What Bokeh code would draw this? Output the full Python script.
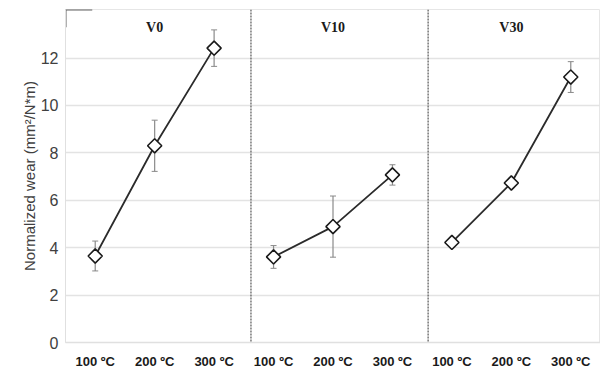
from bokeh.plotting import figure
from bokeh.models import Range1d, Span, Whisker, ColumnDataSource, FixedTicker, Label
from bokeh.embed import file_html
from bokeh.resources import INLINE

temps = ["100 ºC", "200 ºC", "300 ºC"]
groups = ["V0", "V10", "V30"]
v0 = [3.65, 8.3, 12.42]
v0_err = [0.63, 1.08, 0.77]
v10 = [3.61, 4.89, 7.07]
v10_err = [0.48, 1.29, 0.43]
v30 = [4.22, 6.73, 11.2]
v30_err = [0.08, 0.2, 0.65]
separators = [2.62, 5.6]

series = [v0, v10, v30]
errors = [v0_err, v10_err, v30_err]

p = figure(width=600, height=376, output_backend="svg", toolbar_location=None,
           x_range=Range1d(-0.5, 8.5), y_range=Range1d(0, 14.05),
           min_border_left=65, min_border_right=0, min_border_top=9, min_border_bottom=34)
p.outline_line_color = "#e6e6e6"
p.background_fill_color = "white"
p.border_fill_color = "white"

p.xgrid.visible = False
p.ygrid.grid_line_color = "#e3e3e3"
p.ygrid.grid_line_width = 1.5
p.yaxis.ticker = FixedTicker(ticks=[0, 2, 4, 6, 8, 10, 12])
p.yaxis.axis_line_color = "#e0e0e0"
p.yaxis.major_tick_line_color = None
p.yaxis.minor_tick_line_color = None
p.yaxis.major_label_text_font = "Liberation Sans"
p.yaxis.major_label_text_font_size = "16px"
p.yaxis.major_label_text_color = "#404040"
p.yaxis.major_label_standoff = 1
p.yaxis.axis_label = "Normalized wear (mm²/N*m)"
p.yaxis.axis_label_text_font = "Liberation Sans"
p.yaxis.axis_label_text_font_style = "normal"
p.yaxis.axis_label_text_font_size = "15px"
p.yaxis.axis_label_text_color = "#404040"
p.yaxis.axis_label_standoff = 0

xs_all = list(range(9))
p.xaxis.ticker = FixedTicker(ticks=xs_all)
p.xaxis.major_label_overrides = {i: temps[i % 3] for i in xs_all}
p.xaxis.axis_line_color = "#e0e0e0"
p.xaxis.axis_line_width = 1.5
p.xaxis.major_tick_line_color = None
p.xaxis.minor_tick_line_color = None
p.xaxis.major_label_text_font = "Liberation Sans"
p.xaxis.major_label_text_font_style = "bold"
p.xaxis.major_label_text_font_size = "13px"
p.xaxis.major_label_text_color = "#1a1a1a"
p.xaxis.major_label_standoff = 5

for s in separators:
    p.add_layout(Span(location=s, dimension="height", line_color="#555555",
                      line_dash="2 1", line_width=1.2))

for gi, (vals, errs, name) in enumerate(zip(series, errors, groups)):
    xs = [gi * 3 + i for i in range(3)]
    src = ColumnDataSource(dict(x=xs, y=vals,
                                lo=[v - e for v, e in zip(vals, errs)],
                                hi=[v + e for v, e in zip(vals, errs)]))
    w = Whisker(source=src, base="x", lower="lo", upper="hi",
                line_color="#8a8a8a", line_width=1.2)
    w.upper_head.size = 6
    w.lower_head.size = 6
    w.upper_head.line_color = "#8a8a8a"
    w.lower_head.line_color = "#8a8a8a"
    p.add_layout(w)
    p.line("x", "y", source=src, line_color="#2b2b2b", line_width=1.8)
    p.scatter("x", "y", source=src, marker="square", size=10, angle=0.7854,
              fill_color="white", line_color="#1a1a1a", line_width=1.6)
    p.add_layout(Label(x=gi * 3 + 1, y=13.3, text=name, text_align="center",
                       text_baseline="middle", text_font="Liberation Serif",
                       text_font_style="bold", text_font_size="14px",
                       text_color="#1a1a1a"))

# corner mark at top-left of frame
p.line([-0.5, -0.5, -0.05], [13.3, 14.05, 14.05], line_color="#606060", line_width=2)

open("out.html", "w").write(file_html(p, INLINE))
